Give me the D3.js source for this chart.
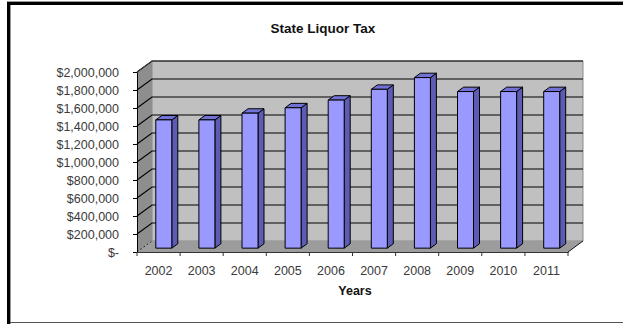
<!DOCTYPE html>
<html>
<head>
<meta charset="utf-8">
<script src="https://cdn.jsdelivr.net/npm/d3@7"></script>
<style>
  html, body { margin: 0; padding: 0; background: #fff; }
  svg { display: block; font-family: "Liberation Sans", Arial, sans-serif; }
</style>
</head>
<body>
<svg id="chart" width="623" height="324"></svg>
<script>
// State liquor tax collections by year
const years = ["2002", "2003", "2004", "2005", "2006", "2007", "2008", "2009", "2010", "2011"];
const taxValues = [1425000, 1425000, 1500000, 1560000, 1645000, 1765000, 1895000, 1740000, 1740000, 1740000];
const yTicks = [0, 200000, 400000, 600000, 800000, 1000000, 1200000, 1400000, 1600000, 1800000, 2000000];
const titleText = "State Liquor Tax";
const xTitle = "Years";

const svg = d3.select("#chart");

// Outer frame
svg.append("line").attr("x1", 7).attr("x2", 623).attr("y1", 1.5).attr("y2", 1.5)
  .attr("stroke", "#999").attr("stroke-width", 1);
svg.append("line").attr("x1", 7).attr("x2", 623).attr("y1", 3.5).attr("y2", 3.5)
  .attr("stroke", "#000").attr("stroke-width", 3);
svg.append("line").attr("x1", 8.5).attr("x2", 8.5).attr("y1", 2).attr("y2", 324)
  .attr("stroke", "#000").attr("stroke-width", 3);
svg.append("line").attr("x1", 10.5).attr("x2", 10.5).attr("y1", 5).attr("y2", 324)
  .attr("stroke", "#999").attr("stroke-width", 1);
svg.append("line").attr("x1", 10).attr("x2", 623).attr("y1", 322.5).attr("y2", 322.5)
  .attr("stroke", "#555").attr("stroke-width", 1);

// Front plane scales; the back wall sits one depth step behind
const y = d3.scaleLinear().domain([0, 2000000]).range([252, 72]);
const x = d3.scaleBand().domain(years).range([137, 568]);
const depth = { dx: 15, dy: -11 };
const pt = (px, py, t) => [px + depth.dx * t, py + depth.dy * t];

const left = x.range()[0], right = x.range()[1];
const y0 = y(0), yMax = y(2000000);

// Back wall
const back = svg.append("g");
back.append("polygon")
  .attr("points", [pt(left, yMax, 1), pt(right, yMax, 1), pt(right, y0, 1), pt(left, y0, 1)].map(p => p.join(",")).join(" "))
  .attr("fill", "#c0c0c0").attr("stroke", "#8a8a8a").attr("stroke-width", 1);

// Side wall
back.append("polygon")
  .attr("points", [pt(left, y0, 0), pt(left, yMax, 0), pt(left, yMax, 1), pt(left, y0, 1)].map(p => p.join(",")).join(" "))
  .attr("fill", "#8e8e8e");

// Floor
back.append("polygon")
  .attr("points", [pt(left, y0, 0), pt(right, y0, 0), pt(right, y0, 1), pt(left, y0, 1)].map(p => p.join(",")).join(" "))
  .attr("fill", "#9c9c9c");

// Gridlines across back wall and side wall
yTicks.filter(d => d > 0).forEach(d => {
  const a = pt(left, y(d), 0), b = pt(left, y(d), 1), c = pt(right, y(d), 1);
  back.append("polyline")
    .attr("points", [a, b, c].map(p => p.join(",")).join(" "))
    .attr("fill", "none").attr("stroke", "#000").attr("stroke-width", 1.1);
});

// Side wall top edge
back.append("line")
  .attr("x1", pt(left, yMax, 0)[0]).attr("y1", pt(left, yMax, 0)[1])
  .attr("x2", pt(left, yMax, 1)[0]).attr("y2", pt(left, yMax, 1)[1])
  .attr("stroke", "#444").attr("stroke-width", 1);

// Floor edges
back.append("line")
  .attr("x1", pt(left, y0, 0)[0]).attr("y1", pt(left, y0, 0)[1])
  .attr("x2", pt(left, y0, 1)[0]).attr("y2", pt(left, y0, 1)[1])
  .attr("stroke", "#222").attr("stroke-width", 1).attr("stroke-dasharray", "2,2");
back.append("line")
  .attr("x1", pt(right, y0, 0)[0]).attr("y1", pt(right, y0, 0)[1])
  .attr("x2", pt(right, y0, 1)[0]).attr("y2", pt(right, y0, 1)[1])
  .attr("stroke", "#111").attr("stroke-width", 1);

// Bars (front face, top, right side)
const t1 = 0.35, t2 = 0.75;
const barW = 16;
const bars = svg.append("g");
years.forEach((yr, i) => {
  const v = taxValues[i];
  const xl = x(yr) + (x.bandwidth() - barW) / 2;
  const xr = xl + barW;
  const yt = y(v), yb = y(0);
  const poly = (pts, fill) => bars.append("polygon")
    .attr("points", pts.map(p => p.join(",")).join(" "))
    .attr("fill", fill).attr("stroke", "#000").attr("stroke-width", 1).attr("stroke-linejoin", "round");
  // side
  poly([pt(xr, yt, t1), pt(xr, yt, t2), pt(xr, yb, t2), pt(xr, yb, t1)], "#5c5cb4");
  // top
  poly([pt(xl, yt, t1), pt(xl, yt, t2), pt(xr, yt, t2), pt(xr, yt, t1)], "#7272d6");
  // front
  poly([pt(xl, yt, t1), pt(xr, yt, t1), pt(xr, yb, t1), pt(xl, yb, t1)], "#9999ff");
});

// Value axis on the front-left edge
const yAxis = svg.append("g")
  .attr("transform", `translate(${left},0)`)
  .call(d3.axisLeft(y).tickValues(yTicks).tickSize(4).tickSizeOuter(0).tickPadding(14)
    .tickFormat(d => d === 0 ? "$-" : d3.format("$,")(d)));
yAxis.select(".domain").attr("stroke", "#000");
yAxis.selectAll(".tick line").attr("stroke", "#000");
yAxis.selectAll("text").attr("font-size", 12.5).attr("fill", "#3a3a3a").attr("font-family", null);

// Category axis along the front floor edge
const xAxis = svg.append("g")
  .attr("transform", `translate(0,${y0})`)
  .call(d3.axisBottom(x).tickSize(0).tickSizeOuter(0).tickPadding(14));
xAxis.select(".domain").attr("stroke", "#333");
xAxis.selectAll("text").attr("font-size", 12.5).attr("fill", "#3a3a3a").attr("font-family", null);
// boundary ticks between categories
xAxis.selectAll(".sep")
  .data(years.map(d => x(d)).concat([right]))
  .join("line").attr("class", "sep")
  .attr("x1", d => d).attr("x2", d => d)
  .attr("y1", 0).attr("y2", 4)
  .attr("stroke", "#333");

// Titles
svg.append("text").attr("x", 323).attr("y", 33).attr("text-anchor", "middle")
  .attr("font-size", 13.5).attr("font-weight", "bold").attr("fill", "#111").text(titleText);
svg.append("text").attr("x", 355).attr("y", 294.5).attr("text-anchor", "middle")
  .attr("font-size", 12.5).attr("font-weight", "bold").attr("fill", "#111").text(xTitle);
</script>
</body>
</html>
